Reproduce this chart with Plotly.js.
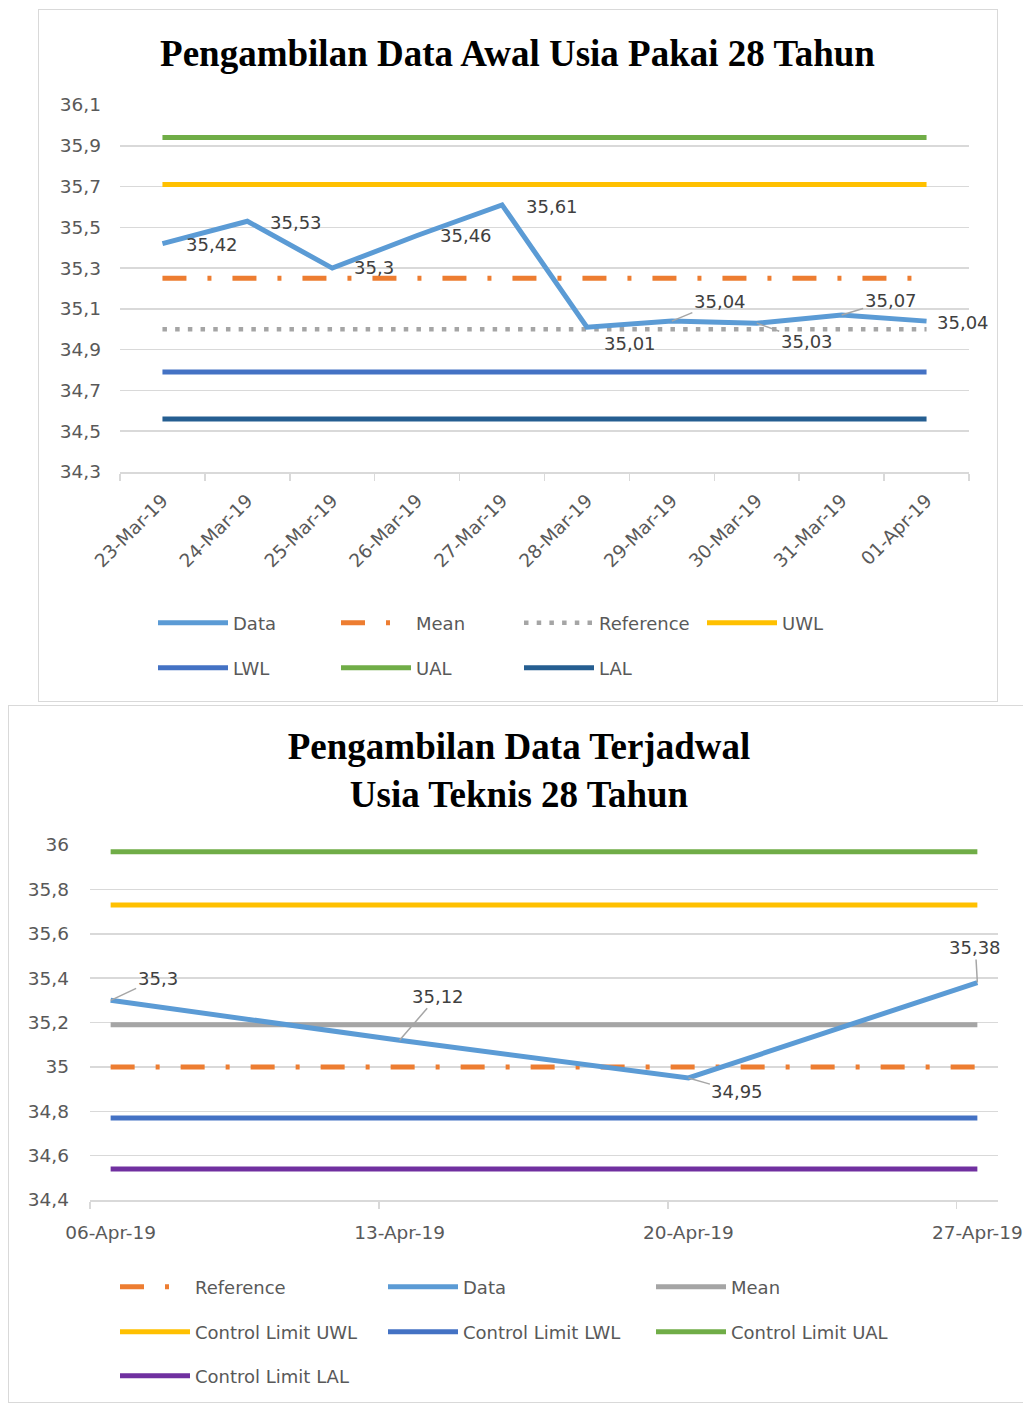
<!DOCTYPE html>
<html>
<head>
<meta charset="utf-8">
<script src="https://cdn.plot.ly/plotly-3.0.1.min.js"></script>
<style>
  html, body { margin:0; padding:0; width:1023px; height:1403px; overflow:hidden; background:#ffffff; }
  #chart1 { position:absolute; left:38px; top:9px; width:960px; height:693px; box-sizing:border-box; border:1.5px solid #d9d9d9; background:#fff; }
  #chart2 { position:absolute; left:8px; top:705px; width:1040px; height:698px; box-sizing:border-box; border:1.5px solid #d9d9d9; background:#fff; }
</style>
</head>
<body>
<div id="chart1"></div>
<div id="chart2"></div>
<script>
// ---------- Chart 1 data ----------
const topTitle = 'Pengambilan Data Awal Usia Pakai 28 Tahun';
const topDates = ['23-Mar-19','24-Mar-19','25-Mar-19','26-Mar-19','27-Mar-19','28-Mar-19','29-Mar-19','30-Mar-19','31-Mar-19','01-Apr-19'];
const topData      = [35.42, 35.53, 35.30, 35.46, 35.61, 35.01, 35.04, 35.03, 35.07, 35.04];
const topMean      = [35.25, 35.25, 35.25, 35.25, 35.25, 35.25, 35.25, 35.25, 35.25, 35.25];
const topReference = [35.00, 35.00, 35.00, 35.00, 35.00, 35.00, 35.00, 35.00, 35.00, 35.00];
const topUWL       = [35.71, 35.71, 35.71, 35.71, 35.71, 35.71, 35.71, 35.71, 35.71, 35.71];
const topLWL       = [34.79, 34.79, 34.79, 34.79, 34.79, 34.79, 34.79, 34.79, 34.79, 34.79];
const topUAL       = [35.94, 35.94, 35.94, 35.94, 35.94, 35.94, 35.94, 35.94, 35.94, 35.94];
const topLAL       = [34.56, 34.56, 34.56, 34.56, 34.56, 34.56, 34.56, 34.56, 34.56, 34.56];

// ---------- Chart 2 data ----------
const botTitle = 'Pengambilan Data Terjadwal<br>Usia Teknis 28 Tahun';
const botDates    = ['2019-04-06', '2019-04-13', '2019-04-20', '2019-04-27'];
const botTickText = ['06-Apr-19', '13-Apr-19', '20-Apr-19', '27-Apr-19'];
const botData      = [35.30, 35.12, 34.95, 35.38];
const botReference = [35.00, 35.00, 35.00, 35.00];
const botMean      = [35.19, 35.19, 35.19, 35.19];
const botUWL       = [35.73, 35.73, 35.73, 35.73];
const botLWL       = [34.77, 34.77, 34.77, 34.77];
const botUAL       = [35.97, 35.97, 35.97, 35.97];
const botLAL       = [34.54, 34.54, 34.54, 34.54];

// ---------- styles ----------
const C = { data:'#5B9BD5', orange:'#ED7D31', gray:'#A5A5A5', yellow:'#FFC000', blue:'#4472C4', green:'#70AD47', navy:'#255E91', purple:'#7030A0' };
const FONT = 'DejaVu Sans, sans-serif';
const TXT = '#595959';
const DASHDOT = '24px,21px,4px,21px';
const DOTS = '4.5px,8.2px';

function fmt(v){ return String(v).replace('.', ','); }

// label placement (pixel offsets, style only)
const topLabelStyle = [
  {mode:'right', dx:22, dy:-1}, {mode:'right', dx:21, dy:-1}, {mode:'right', dx:20, dy:1},
  {mode:'right', dx:21, dy:0},  {mode:'right', dx:22, dy:-2}, {mode:'right', dx:15, dy:-16},
  {mode:'leader', ax:48, ay:-20}, {mode:'leader', ax:50, ay:18}, {mode:'leader', ax:49, ay:-15},
  {mode:'right', dx:8, dy:-1}
];
const botLabelStyle = [
  {mode:'leader', ax:47, ay:-22}, {mode:'leader', ax:38, ay:-44},
  {mode:'leader', ax:49, ay:14},  {mode:'leader', ax:-2, ay:-35}
];

function makeLabels(xs, ys, styles){
  return xs.map((x, i) => {
    const s = styles[i];
    const base = { x: x, y: ys[i], text: fmt(ys[i]), font:{family:FONT, size:18, color:'#404040'} };
    if (s.mode === 'leader') {
      return Object.assign(base, { showarrow:true, arrowhead:0, arrowwidth:1.5, arrowcolor:'#A6A6A6', standoff:0, startstandoff:0, ax:s.ax, ay:s.ay });
    }
    return Object.assign(base, { showarrow:false, xanchor:'left', yanchor:'middle', xshift:s.dx, yshift:s.dy });
  });
}

function line(x, y, name, color, width, dash, legend, rank){
  return { type:'scatter', mode:'lines', x:x, y:y, name:name,
    line:{color:color, width:width, dash:dash || 'solid'}, legend:legend, legendrank:rank,
    hoverinfo:'skip', cliponaxis:false };
}

const legendFont = {family:FONT, size:18, color:TXT};
function legendBox(x, y, ew){
  return { orientation:'h', xref:'container', yref:'container', x:x, y:y, xanchor:'left', yanchor:'middle',
           entrywidth:ew, entrywidthmode:'pixels', itemwidth:70, font:legendFont, bgcolor:'rgba(0,0,0,0)', traceorder:'normal' };
}

// ---------- Chart 1 ----------
const traces1 = [
  line(topDates, topUAL, 'UAL', C.green, 5, null, 'legend2', 2),
  line(topDates, topUWL, 'UWL', C.yellow, 5, null, 'legend', 4),
  line(topDates, topMean, 'Mean', C.orange, 5, DASHDOT, 'legend', 2),
  line(topDates, topReference, 'Reference', C.gray, 4.5, DOTS, 'legend', 3),
  line(topDates, topLWL, 'LWL', C.blue, 5, null, 'legend2', 1),
  line(topDates, topLAL, 'LAL', C.navy, 5, null, 'legend2', 3),
  line(topDates, topData, 'Data', C.data, 5, null, 'legend', 1)
];
const layout1 = {
  width:957, height:690,
  margin:{l:81, r:27, t:95, b:228},
  paper_bgcolor:'#ffffff', plot_bgcolor:'#ffffff',
  separators:',.',
  showlegend:true,
  title:{ text:topTitle, x:0.5, xref:'container', y:1-43/690, yref:'container', yanchor:'middle',
          font:{family:'Liberation Serif, Times New Roman, serif', size:37, color:'#000000', weight:'bold'} },
  xaxis:{ type:'category', range:[-0.5, 9.5], tickson:'boundaries', ticks:'outside', ticklen:7, tickwidth:1.5, tickcolor:'#D9D9D9',
          showline:true, linecolor:'#D9D9D9', linewidth:1.5, showgrid:false, zeroline:false,
          tickangle:-45, ticklabelstandoff:9, tickfont:{family:FONT, size:18.5, color:TXT}, fixedrange:true },
  yaxis:{ range:[34.3, 36.1], tick0:34.3, dtick:0.2, tickformat:'.1f', showgrid:true, gridcolor:'#D9D9D9', gridwidth:1.5,
          zeroline:false, showline:false, ticks:'', ticklabelstandoff:18, tickfont:{family:FONT, size:18.5, color:TXT}, fixedrange:true },
  legend: legendBox(114/957, 1-613/690, 98),
  legend2: legendBox(114/957, 1-658/690, 98),
  annotations: makeLabels(topDates, topData, topLabelStyle)
};

// ---------- Chart 2 ----------
const traces2 = [
  line(botDates, botUAL, 'Control Limit UAL', C.green, 5, null, 'legend2', 3),
  line(botDates, botUWL, 'Control Limit UWL', C.yellow, 5, null, 'legend2', 1),
  line(botDates, botMean, 'Mean', C.gray, 5, null, 'legend', 3),
  line(botDates, botReference, 'Reference', C.orange, 5, DASHDOT, 'legend', 1),
  line(botDates, botLWL, 'Control Limit LWL', C.blue, 5, null, 'legend2', 2),
  line(botDates, botLAL, 'Control Limit LAL', C.purple, 5, null, 'legend3', 1),
  line(botDates, botData, 'Data', C.data, 5, null, 'legend', 2)
];
const layout2 = {
  width:1037, height:695,
  margin:{l:81, r:48, t:139, b:201},
  paper_bgcolor:'#ffffff', plot_bgcolor:'#ffffff',
  separators:',.',
  showlegend:true,
  title:{ text:botTitle, x:510/1037, xref:'container', y:1-53/695, yref:'container', yanchor:'middle',
          font:{family:'Liberation Serif, Times New Roman, serif', size:37, color:'#000000', weight:'bold'} },
  xaxis:{ type:'date', range:['2019-04-05 12:00', '2019-04-27 12:00'], tickvals:botDates, ticktext:botTickText,
          ticks:'', showline:true, linecolor:'#D9D9D9', linewidth:1.5, showgrid:false, zeroline:false,
          minor:{ ticks:'outside', ticklen:7, tickwidth:1.5, tickcolor:'#D9D9D9', tick0:'2019-04-05 12:00', dtick:7*86400000, showgrid:false },
          tickfont:{family:FONT, size:18.5, color:TXT}, ticklabelstandoff:15, fixedrange:true },
  yaxis:{ range:[34.4, 36], tick0:34.4, dtick:0.2, showgrid:true, gridcolor:'#D9D9D9', gridwidth:1.5,
          zeroline:false, showline:false, ticks:'', ticklabelstandoff:20, tickfont:{family:FONT, size:18.5, color:TXT}, fixedrange:true },
  legend: legendBox(106/1037, 1-581/695, 183),
  legend2: legendBox(106/1037, 1-626/695, 183),
  legend3: legendBox(106/1037, 1-670/695, 183),
  annotations: makeLabels(botDates, botData, botLabelStyle)
};

const config = {displayModeBar:false, staticPlot:true};
Plotly.newPlot('chart1', traces1, layout1, config);
Plotly.newPlot('chart2', traces2, layout2, config);
</script>
</body>
</html>
